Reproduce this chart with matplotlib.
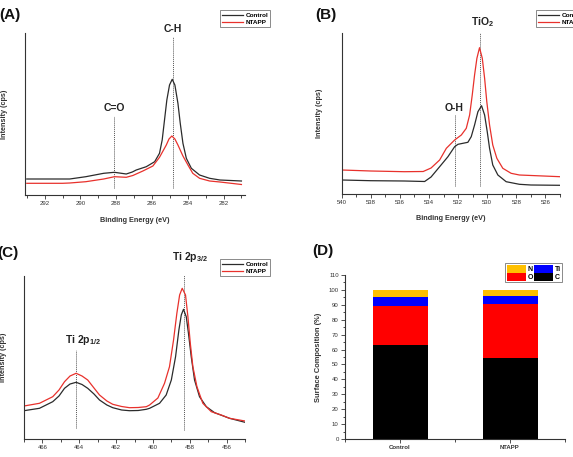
import matplotlib
matplotlib.use("Agg")
import matplotlib.pyplot as plt
from matplotlib.ticker import MultipleLocator

plt.rcParams['font.family'] = ['Liberation Sans', 'DejaVu Sans']
plt.rcParams['mathtext.default'] = 'regular'

BLACK = '#2b2b2b'
RED = '#e8312c'

# (A) C 1s spectrum
a_ev_control = [293, 291, 290.6, 289.7, 288.7, 288.1, 287.44, 287.1, 286.88, 286.32,
                285.85, 285.58, 285.43, 285.3, 285.17, 285.02, 284.87, 284.72, 284.55,
                284.42, 284.27, 284.08, 283.8, 283.34, 282.78, 282.2, 281]
a_control = [16, 16, 16, 18.3, 21.7, 22.7, 21, 23, 25, 28.3,
             33.3, 41.7, 55, 75, 95, 110, 115.7, 110, 91.7,
             71.7, 51.7, 36.7, 26.7, 20, 16.7, 15, 14]
a_ev_ntapp = [293, 291, 290.6, 289.7, 288.7, 288.1, 287.44, 287.07, 286.51, 285.95,
              285.58, 285.2, 285.05, 284.89, 284.72, 284.55, 284.27, 283.99, 283.72,
              283.34, 282.78, 282.2, 281]
a_ntapp = [11.7, 11.7, 12, 13.3, 16, 18.3, 17.7, 19.5, 24, 29,
           37.7, 50, 56, 59, 56, 50, 39, 30, 21.7,
           16.7, 14, 13, 10.5]

# (B) O 1s spectrum
b_ev_control = [540, 538, 535.7, 534.3, 533.86, 533.27, 532.7, 532.24, 532.01, 531.67,
                531.33, 531.1, 530.87, 530.64, 530.39, 530.18, 530.0, 529.84, 529.62,
                529.27, 528.7, 527.79, 527.0, 525]
b_control = [14, 13.3, 13, 12.5, 17, 27.3, 37.3, 47.3, 49.7, 50.7,
             51.7, 57.3, 69, 82.3, 88.3, 79, 62.3, 45.7, 29,
             19, 12.3, 9.7, 9, 8.7]
b_ev_ntapp = [540, 538, 535.7, 534.4, 533.86, 533.27, 532.81, 532.24, 531.78, 531.44,
              531.21, 531.03, 530.87, 530.71, 530.53, 530.34, 530.18, 530.03, 529.84,
              529.62, 529.34, 528.93, 528.36, 527.79, 525]
b_ntapp = [24, 23, 22.3, 22.5, 26, 34, 45.7, 54, 59, 65.7,
           79, 99, 119, 135.7, 146.3, 135.7, 115.7, 92.3, 69,
           49, 35.7, 25.7, 20.7, 19, 17.3]

# (C) Ti 2p spectrum
c_ev_control = [467, 466.16, 465.44, 465.1, 464.8, 464.5, 464.17, 463.85, 463.54, 463.2,
                462.9, 462.5, 462.18, 461.7, 461.27, 460.8, 460.36, 460.18, 459.64, 459.28,
                459.0, 458.77, 458.59, 458.46, 458.34, 458.19, 458.07, 457.92, 457.74,
                457.47, 457.1, 456.65, 455.84, 455]
c_control = [28.3, 30.7, 37.3, 43, 50.7, 55, 56.7, 54.5, 50.7, 45,
             39, 34, 31.3, 29, 28.3, 28.5, 29.7, 30.7, 35.7, 44,
             59, 82.3, 109, 124, 129.7, 122.3, 105.7, 82.3, 59,
             42.3, 32.3, 26.3, 20.7, 16.7]
c_ev_ntapp = [467, 466.16, 465.44, 465.1, 464.8, 464.5, 464.17, 463.85, 463.54, 463.2,
              462.9, 462.5, 462.18, 461.7, 461.27, 460.8, 460.36, 460.18, 459.73, 459.37,
              459.1, 458.88, 458.7, 458.55, 458.41, 458.23, 458.1, 457.97, 457.83,
              457.61, 457.29, 456.83, 456.29, 455.84, 455]
c_ntapp = [33, 35.7, 42.3, 49, 57.3, 63, 65.7, 63, 59, 51,
           44, 38, 34.7, 32.5, 31.3, 31.5, 32.3, 34, 41, 55.7,
           72.3, 99, 125.7, 144, 150.7, 144, 122.3, 95.7, 72.3,
           52.3, 35.7, 27.3, 24, 20.7, 18]

# (D) surface composition
samples = ['Control', 'NTAPP']
elements = ['C', 'O', 'Ti', 'N']
comp = {'C': [63, 54.5], 'O': [26, 36], 'Ti': [6.5, 5.5], 'N': [4.5, 4]}
el_colors = {'C': '#000000', 'O': '#ff0000', 'Ti': '#0000ff', 'N': '#ffc000'}

W, H = 573, 457
fig = plt.figure(figsize=(W / 100, H / 100), dpi=100)


def px_axes(l, t, r, b):
    return fig.add_axes([l / W, 1 - b / H, (r - l) / W, (b - t) / H])


def style_spectrum(ax, xlim, ymax, major, ylab_x, xlab_y):
    ax.set_xlim(*xlim)
    ax.set_ylim(0, ymax)
    ax.spines['top'].set_visible(False)
    ax.spines['right'].set_visible(False)
    for s in ['left', 'bottom']:
        ax.spines[s].set_linewidth(0.8)
        ax.spines[s].set_color('#333333')
    ax.set_yticks([])
    ax.xaxis.set_major_locator(MultipleLocator(major))
    ax.xaxis.set_minor_locator(MultipleLocator(major / 2))
    ax.tick_params(axis='x', which='major', direction='out', length=3, width=0.6,
                   labelsize=4.3, pad=1.5, colors='#333333')
    ax.tick_params(axis='x', which='minor', direction='out', length=1.8, width=0.5)
    ax.set_xlabel('Binding Energy (eV)', fontsize=5.2, fontweight='bold', color='#333333')
    ax.xaxis.set_label_coords(0.5, xlab_y)
    ax.set_ylabel('Intensity (cps)', fontsize=5.2, fontweight='bold', color='#333333')
    ax.yaxis.set_label_coords(ylab_x, 0.5)


def peak(ax, x, y0, y1, label, lx, ly):
    ax.plot([x, x], [y0, y1], ls=(0, (1, 1)), color='#555555', lw=0.7, zorder=1)
    ax.text(lx, ly, label, fontsize=7.5, fontweight='bold', color='#222222',
            ha='center', va='center', clip_on=False)


def spec_legend(ax, x, y):
    leg = ax.legend(loc='upper left', bbox_to_anchor=(x / W, 1 - y / H),
                    bbox_transform=fig.transFigure, frameon=True,
                    fancybox=False, edgecolor='#777777', framealpha=1,
                    handlelength=3.2, handletextpad=0.4, borderpad=0.35,
                    labelspacing=0.25, prop={'weight': 'bold', 'size': 4.6})
    leg.get_frame().set_linewidth(0.6)


# panel A
axA = px_axes(25, 33, 245, 195)
axA.plot(a_ev_control, a_control, color=BLACK, lw=0.9, label='Control')
axA.plot(a_ev_ntapp, a_ntapp, color=RED, lw=0.9, label='NTAPP')
style_spectrum(axA, (293.1, 280.8), 162, 2, -0.077, -0.136)
peak(axA, 288.1, 7, 79, 'C=O', 288.1, 87)
peak(axA, 284.85, 7, 158, 'C-H', 284.85, 166)
spec_legend(axA, 217, 7)

# panel B
axB = px_axes(341.7, 33, 560, 194)
axB.plot(b_ev_control, b_control, color=BLACK, lw=0.9, label='Control')
axB.plot(b_ev_ntapp, b_ntapp, color=RED, lw=0.9, label='NTAPP')
style_spectrum(axB, (540, 525), 161, 2, -0.086, -0.13)
peak(axB, 532.19, 8, 79, 'O-H', 532.3, 86)
peak(axB, 530.48, 8, 162, 'TiO$_2$', 530.3, 172)
spec_legend(axB, 533, 7)

# panel C
axC = px_axes(24, 276, 245, 439)
axC.plot(c_ev_control, c_control, color=BLACK, lw=0.9, label='Control')
axC.plot(c_ev_ntapp, c_ntapp, color=RED, lw=0.9, label='NTAPP')
style_spectrum(axC, (467, 455), 163, 2, -0.077, -0.135)
peak(axC, 464.17, 11, 89, 'Ti 2p$_{1/2}$', 463.8, 99)
peak(axC, 458.32, 9, 168, 'Ti 2p$_{3/2}$', 458.0, 182)
spec_legend(axC, 217, 256)

# panel D
axD = px_axes(345, 275, 565, 439)
pos = [1, 2]
bottom = [0, 0]
handles = {}
for el in elements:
    bars = axD.bar(pos, comp[el], width=0.5, bottom=bottom, color=el_colors[el],
                   label=el)
    handles[el] = bars
    bottom = [b + v for b, v in zip(bottom, comp[el])]
axD.set_xlim(0.5, 2.5)
axD.set_ylim(0, 110)
axD.spines['top'].set_visible(False)
axD.spines['right'].set_visible(False)
for s in ['left', 'bottom']:
    axD.spines[s].set_linewidth(0.8)
    axD.spines[s].set_color('#333333')
axD.set_xticks(pos)
axD.set_xticklabels(samples, fontsize=5, fontweight='bold', color='#333333')
axD.xaxis.set_minor_locator(MultipleLocator(0.5))
axD.yaxis.set_major_locator(MultipleLocator(10))
axD.yaxis.set_minor_locator(MultipleLocator(5))
axD.tick_params(axis='both', which='major', direction='out', length=3, width=0.6,
                labelsize=4.3, pad=1.5, colors='#333333')
axD.tick_params(axis='both', which='minor', direction='out', length=1.8, width=0.5)
axD.set_ylabel('Surface Composition (%)', fontsize=5.4, fontweight='bold', color='#333333')
axD.yaxis.set_label_coords(-0.106, 0.5)
legD = axD.legend([handles['N'], handles['O'], handles['Ti'], handles['C']],
                  ['N', 'O', 'Ti', 'C'], ncol=2, loc='upper left',
                  bbox_to_anchor=(502 / W, 1 - 260 / H), bbox_transform=fig.transFigure,
                  frameon=True, fancybox=False, edgecolor='#777777', framealpha=1,
                  handlelength=2.8, handleheight=1.4, handletextpad=0.2,
                  columnspacing=0.15, borderpad=0.15, labelspacing=0.0,
                  prop={'weight': 'bold', 'size': 5})
legD.get_frame().set_linewidth(0.6)

# panel letters
for txt, x, y in [('(A)', 10, 15), ('(B)', 326, 15), ('(C)', 8, 253), ('(D)', 323, 251)]:
    fig.text(x / W, 1 - y / H, txt, fontsize=11, fontweight='bold', color='#111111',
             ha='center', va='center')

fig.savefig('out.png', dpi=100)
